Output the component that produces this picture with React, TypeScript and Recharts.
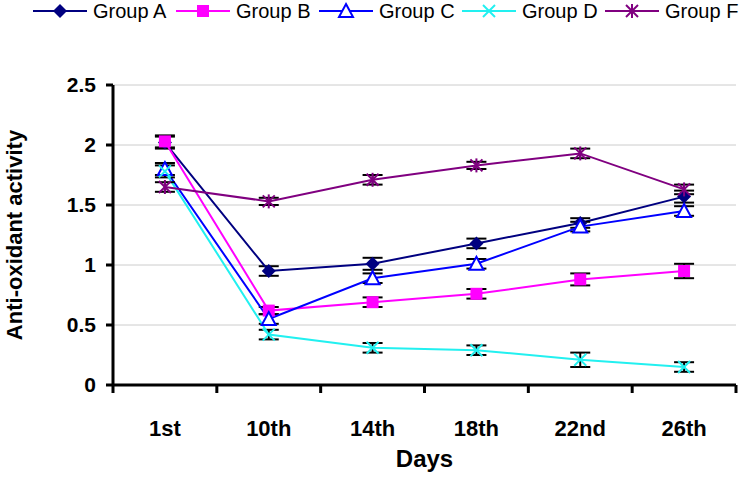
import React from "react";
import {
  LineChart,
  Line,
  XAxis,
  YAxis,
  CartesianGrid,
  ErrorBar,
} from "recharts";

const days = ["1st", "10th", "14th", "18th", "22nd", "26th"];
const groupA = [2.02, 0.95, 1.01, 1.18, 1.35, 1.57];
const groupB = [2.03, 0.62, 0.69, 0.76, 0.88, 0.95];
const groupC = [1.8, 0.55, 0.89, 1.01, 1.32, 1.45];
const groupD = [1.78, 0.42, 0.31, 0.29, 0.21, 0.15];
const groupF = [1.65, 1.53, 1.71, 1.83, 1.93, 1.63];
const errA = [0.05, 0.04, 0.05, 0.04, 0.04, 0.05];
const errB = [0.05, 0.03, 0.04, 0.04, 0.05, 0.06];
const errC = [0.05, 0.04, 0.04, 0.04, 0.04, 0.04];
const errD = [0.05, 0.04, 0.04, 0.04, 0.06, 0.04];
const errF = [0.04, 0.03, 0.04, 0.03, 0.04, 0.04];
const yTicks = [0, 0.5, 1, 1.5, 2, 2.5];

const FONT = "'Liberation Sans', Arial, sans-serif";

const data = days.map((d, i) => ({
  x: i + 0.5,
  day: d,
  A: groupA[i],
  B: groupB[i],
  C: groupC[i],
  D: groupD[i],
  F: groupF[i],
  eA: errA[i],
  eB: errB[i],
  eC: errC[i],
  eD: errD[i],
  eF: errF[i],
}));

type Shape = "diamond" | "square" | "triangle" | "cross" | "star";

function Marker({ shape, cx, cy, color }: { shape: Shape; cx: number; cy: number; color: string }) {
  switch (shape) {
    case "diamond":
      return (
        <polygon
          points={`${cx},${cy - 7} ${cx + 7},${cy} ${cx},${cy + 7} ${cx - 7},${cy}`}
          fill={color}
        />
      );
    case "square":
      return <rect x={cx - 6} y={cy - 6} width={12} height={12} fill={color} />;
    case "triangle":
      return (
        <polygon
          points={`${cx},${cy - 7} ${cx + 7},${cy + 6} ${cx - 7},${cy + 6}`}
          fill="#fff"
          stroke={color}
          strokeWidth={2}
        />
      );
    case "cross":
      return (
        <g stroke={color} strokeWidth={2}>
          <line x1={cx - 6} y1={cy - 6} x2={cx + 6} y2={cy + 6} />
          <line x1={cx - 6} y1={cy + 6} x2={cx + 6} y2={cy - 6} />
        </g>
      );
    default:
      return (
        <g stroke={color} strokeWidth={2}>
          <line x1={cx - 6} y1={cy - 6} x2={cx + 6} y2={cy + 6} />
          <line x1={cx - 6} y1={cy + 6} x2={cx + 6} y2={cy - 6} />
          <line x1={cx} y1={cy - 7} x2={cx} y2={cy + 7} />
        </g>
      );
  }
}

const series: { key: string; err: string; name: string; color: string; shape: Shape }[] = [
  { key: "A", err: "eA", name: "Group A", color: "#000080", shape: "diamond" },
  { key: "B", err: "eB", name: "Group B", color: "#ff00ff", shape: "square" },
  { key: "C", err: "eC", name: "Group C", color: "#0000ff", shape: "triangle" },
  { key: "D", err: "eD", name: "Group D", color: "#22f0f0", shape: "cross" },
  { key: "F", err: "eF", name: "Group F", color: "#800080", shape: "star" },
];

function XTick(props: any) {
  const { x, y, payload } = props;
  const v = payload.value as number;
  if (Number.isInteger(v)) {
    return <line x1={x} y1={y} x2={x} y2={y + 8} stroke="#000" strokeWidth={3} />;
  }
  return (
    <text
      x={x}
      y={y + 51}
      textAnchor="middle"
      fontFamily={FONT}
      fontWeight="bold"
      fontSize={22}
      fill="#000"
    >
      {days[Math.floor(v)]}
    </text>
  );
}

export default function App() {
  return (
    <div style={{ position: "absolute", left: 0, top: 0, width: 740, height: 497, background: "#fff" }}>
      <svg width={740} height={26} style={{ position: "absolute", left: 0, top: 0 }}>
        {series.map((s, i) => {
          const x0 = 33 + i * 143;
          return (
            <g key={s.key}>
              <line x1={x0} y1={11} x2={x0 + 54} y2={11} stroke={s.color} strokeWidth={2} />
              <Marker shape={s.shape} cx={x0 + 27} cy={11} color={s.color} />
              <text x={x0 + 60} y={18} fontFamily={FONT} fontSize={20} fill="#000">
                {s.name}
              </text>
            </g>
          );
        })}
      </svg>
      <LineChart
        width={740}
        height={497}
        data={data}
        margin={{ top: 85, right: 4, left: 53, bottom: 52 }}
      >
        <CartesianGrid vertical={false} stroke="#cccccc" />
        <XAxis
          dataKey="x"
          type="number"
          domain={[0, 6]}
          ticks={[0, 0.5, 1, 1.5, 2, 2.5, 3, 3.5, 4, 4.5, 5, 5.5, 6]}
          interval={0}
          height={60}
          tickSize={0}
          tickMargin={0}
          tickLine={false}
          axisLine={{ stroke: "#000", strokeWidth: 3 }}
          tick={<XTick />}
          label={{
            value: "Days",
            position: "insideBottom",
            offset: -22,
            fontFamily: FONT,
            fontWeight: "bold",
            fontSize: 24,
            fill: "#000",
          }}
        />
        <YAxis
          domain={[0, 2.5]}
          ticks={yTicks}
          width={60}
          tickSize={7}
          tickMargin={10}
          axisLine={{ stroke: "#000", strokeWidth: 3 }}
          tickLine={{ stroke: "#000", strokeWidth: 3 }}
          tick={{ fill: "#000", fontSize: 21, fontWeight: "bold", fontFamily: FONT }}
          label={{
            value: "Anti-oxidant activity",
            angle: -90,
            position: "insideLeft",
            offset: -39,
            style: { textAnchor: "middle" },
            fontFamily: FONT,
            fontWeight: "bold",
            fontSize: 22,
            fill: "#000",
          }}
        />
        {series.map((s) => (
          <Line
            key={s.key}
            dataKey={s.key}
            stroke={s.color}
            strokeWidth={2}
            isAnimationActive={false}
            dot={(p: any) => (
              <Marker key={`${s.key}-${p.index}`} shape={s.shape} cx={p.cx} cy={p.cy} color={s.color} />
            )}
            activeDot={false}
          >
            <ErrorBar dataKey={s.err} width={10} stroke="#000" strokeWidth={2} direction="y" />
          </Line>
        ))}
      </LineChart>
    </div>
  );
}
